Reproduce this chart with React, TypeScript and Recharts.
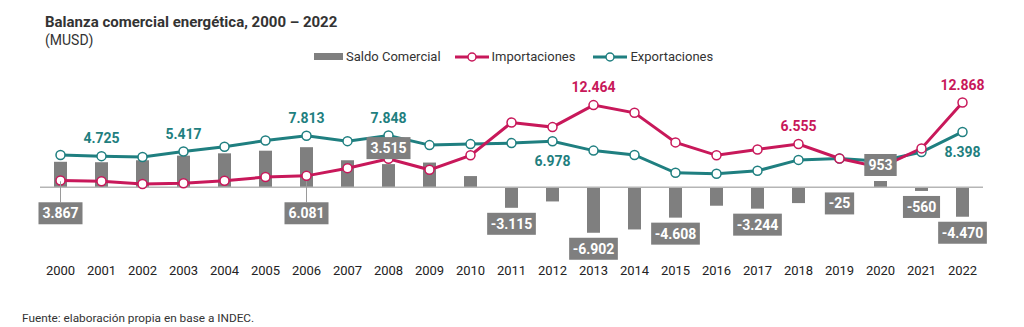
import React from "react";
import {
  ComposedChart,
  Bar,
  Line,
  XAxis,
  YAxis,
  ReferenceLine,
  LabelList,
} from "recharts";

const years = [
  "2000", "2001", "2002", "2003", "2004", "2005", "2006", "2007", "2008", "2009", "2010", "2011",
  "2012", "2013", "2014", "2015", "2016", "2017", "2018", "2019", "2020", "2021", "2022",
];

// MUSD
const saldoComercial = [
  3867, 3800, 4100, 4800, 5150, 5550, 6081, 4100, 3515, 3750, 1700, -3115,
  -2150, -6902, -6400, -4608, -2800, -3244, -2400, -25, 953, -560, -4470,
];

const importaciones = [
  1033, 925, 500, 617, 1000, 1550, 1732, 2900, 4333, 2650, 4850, 9815,
  9128, 12464, 11300, 6808, 4850, 5744, 6555, 4375, 2997, 5900, 12868,
];

const exportaciones = [
  4900, 4725, 4600, 5417, 6150, 7100, 7813, 7000, 7848, 6400, 6550, 6700,
  6978, 5562, 4900, 2200, 2050, 2500, 4155, 4350, 3950, 5340, 8398,
];

// which points carry a value label
const saldoLabelMode: Record<number, "leader" | "above" | "below"> = {
  0: "leader",
  6: "leader",
  8: "above",
  11: "below",
  13: "below",
  15: "below",
  17: "below",
  19: "below",
  20: "above",
  21: "below",
  22: "below",
};
const impLabelsAbove = [13, 18, 22];
const expLabelsAbove = [1, 3, 6, 8];
const expLabelsBelow = [12, 22];

const PINK = "#c8185a";
const TEAL = "#1f7f80";
const GRAY = "#7f7f7f";
const FONT = "Roboto, 'Noto Sans', sans-serif";

const data = years.map((year, i) => ({
  year,
  saldo: saldoComercial[i],
  imp: importaciones[i],
  exp: exportaciones[i],
}));

function fmt(v: number) {
  const s = Math.abs(v).toString().replace(/\B(?=(\d{3})+(?!\d))/g, ".");
  return v < 0 ? "-" + s : s;
}

function boxWidth(text: string) {
  let w = 0;
  for (const ch of text) w += ch === "." ? 3.8 : ch === "-" ? 4.7 : 7.8;
  return w + 9;
}

function SaldoLabel(props: any) {
  const { x, y, width, height, value } = props;
  let index = props.index;
  if (index === undefined) index = saldoComercial.indexOf(value);
  const mode = saldoLabelMode[index];
  if (!mode) return null;
  const text = fmt(value);
  const cx = x + width / 2;
  const top = Math.min(y, y + height);
  const bottom = Math.max(y, y + height);
  const zero = value >= 0 ? bottom : top;
  const w = boxWidth(text);
  const h = 22;
  let by = bottom + 5;
  if (mode === "above") by = top - 5 - h;
  if (mode === "leader") by = zero + 15;
  return (
    <g>
      {mode === "leader" && (
        <line x1={cx} x2={cx} y1={zero - 6} y2={by} stroke="#9a9a9a" strokeWidth={1} />
      )}
      <rect x={cx - w / 2} y={by} width={w} height={h} fill={GRAY} />
      <text
        x={cx}
        y={by + h / 2}
        dy="0.36em"
        textAnchor="middle"
        fill="#fff"
        fontWeight={700}
        fontSize={14}
        fontFamily={FONT}
      >
        {text}
      </text>
    </g>
  );
}

function lineLabel(color: string, above: number[], below: number[]) {
  return (props: any) => {
    const { x, y, value, index } = props;
    let off = 0;
    if (above.includes(index)) off = -18;
    else if (below.includes(index)) off = 20;
    else return null;
    return (
      <text
        x={x}
        y={y + off}
        dy="0.36em"
        textAnchor="middle"
        fill={color}
        fontWeight={700}
        fontSize={14}
        fontFamily={FONT}
      >
        {fmt(value)}
      </text>
    );
  };
}

function YearTick(props: any) {
  const { x, y, payload } = props;
  return (
    <text x={x} y={y + 18} dy="0.71em" textAnchor="middle" fill="#222" fontSize={13} fontFamily={FONT}>
      {payload.value}
    </text>
  );
}

function LegendMark({ color }: { color: string }) {
  return (
    <svg width={34} height={12} style={{ marginRight: 3 }}>
      <line x1={0} x2={34} y1={6} y2={6} stroke={color} strokeWidth={3} />
      <circle cx={17} cy={6} r={4} fill="#fff" stroke={color} strokeWidth={1.5} />
    </svg>
  );
}

export default function App() {
  return (
    <div
      style={{
        position: "relative",
        width: 1024,
        height: 327,
        overflow: "hidden",
        background: "#fff",
        fontFamily: FONT,
        color: "#333",
      }}
    >
      <style>{"body{margin:0}"}</style>
      <div style={{ position: "absolute", left: 45, top: 13, fontSize: 15, fontWeight: 700, color: "#333" }}>
        Balanza comercial energética, 2000 – 2022
      </div>
      <div style={{ position: "absolute", left: 45, top: 32, fontSize: 14, color: "#333" }}>(MUSD)</div>

      <div
        style={{
          position: "absolute",
          top: 49,
          left: 314,
          display: "flex",
          alignItems: "center",
          fontSize: 13,
          color: "#333",
        }}
      >
        <span style={{ display: "inline-block", width: 29, height: 7, background: GRAY, marginRight: 3 }} />
        <span style={{ marginRight: 14 }}>Saldo Comercial</span>
        <LegendMark color={PINK} />
        <span style={{ marginRight: 18 }}>Importaciones</span>
        <LegendMark color={TEAL} />
        <span>Exportaciones</span>
      </div>

      <div style={{ position: "absolute" }}>
        <ComposedChart
          width={1024}
          height={327}
          data={data}
          margin={{ top: 95, right: 41, bottom: 57, left: 40 }}
        >
          <XAxis
            dataKey="year"
            axisLine={false}
            tickLine={false}
            interval={0}
            tick={<YearTick />}
            height={30}
          />
          <YAxis hide domain={[-8000, 14000]} />
          <Bar dataKey="saldo" fill={GRAY} barSize={13} isAnimationActive={false}>
            <LabelList dataKey="saldo" content={<SaldoLabel />} />
          </Bar>
          <ReferenceLine y={0} stroke="#b5b5b5" strokeWidth={1.5} />
          <Line
            type="linear"
            dataKey="exp"
            stroke={TEAL}
            strokeWidth={3}
            dot={{ r: 4.5, fill: "#fff", stroke: TEAL, strokeWidth: 1.5 }}
            isAnimationActive={false}
          >
            <LabelList dataKey="exp" content={lineLabel(TEAL, expLabelsAbove, expLabelsBelow)} />
          </Line>
          <Line
            type="linear"
            dataKey="imp"
            stroke={PINK}
            strokeWidth={3}
            dot={{ r: 4.5, fill: "#fff", stroke: PINK, strokeWidth: 1.5 }}
            isAnimationActive={false}
          >
            <LabelList dataKey="imp" content={lineLabel(PINK, impLabelsAbove, [])} />
          </Line>
        </ComposedChart>
      </div>

      <div style={{ position: "absolute", left: 22, top: 312, fontSize: 11.8, color: "#333", lineHeight: 1.1 }}>
        Fuente: elaboración propia en base a INDEC.
      </div>
    </div>
  );
}
